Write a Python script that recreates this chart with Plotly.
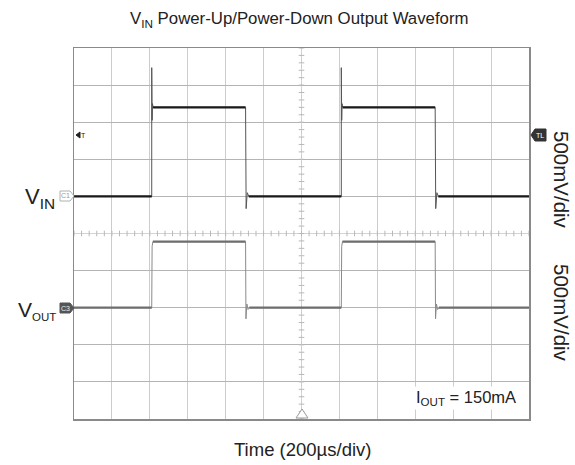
import numpy as np
import plotly.graph_objects as go

# ---- data (time in µs relative to screen centre, amplitude in screen divisions) ----
vin_t = [-1200, -790, -790, -788, -786, -783, -295, -292, -286, -278,
         210, 210, 212, 214, 217, 705, 708, 714, 722, 1200]
vin_div = [1.0, 1.0, 4.47, 3.05, 3.5, 3.4, 3.4, 0.67, 1.1, 1.0,
           1.0, 4.47, 3.05, 3.5, 3.4, 3.4, 0.67, 1.1, 1.0, 1.0]

vout_t = [-1200, -790, -788, -784, -295, -293, -288, -282, -275,
          210, 212, 216, 705, 707, 712, 718, 725, 1200]
vout_div = [-2.0, -2.0, -0.35, -0.22, -0.22, -2.3, -1.9, -2.05, -2.0,
            -2.0, -0.35, -0.22, -0.22, -2.3, -1.9, -2.05, -2.0, -2.0]

title_text = "V<sub>IN</sub> Power-Up/Power-Down Output Waveform"
x_title = "Time (200µs/div)"
scale_labels = ["500mV/div", "500mV/div"]
iout_label = "I<sub>OUT</sub> = 150mA"
vin_label = "V<sub>IN</sub>"
vout_label = "V<sub><span style='font-size:11.5px'>OUT</span></sub>"

W, H = 575, 465
L, R, T, B = 74, 529, 48, 419
FONT = "Liberation Sans, Arial, sans-serif"


def px(x):
    return (x - L) / (R - L)


def py(y):
    return (B - y) / (B - T)


def flat_parts(t, v, min_len=20):
    xs, ys = [], []
    for i in range(len(t) - 1):
        if t[i + 1] - t[i] >= min_len:
            xs += [t[i], t[i + 1], None]
            ys += [v[i], v[i + 1], None]
    return xs, ys


fig = go.Figure()

# centre graticule lines with minor ticks
mx = np.arange(-1200, 1201, 40)
my = np.arange(-5, 5.01, 0.2)
fig.add_trace(go.Scatter(x=[-1200, 1200], y=[0, 0], mode="lines",
                         line=dict(color="#d4d4d4", width=1), hoverinfo="skip", showlegend=False))
fig.add_trace(go.Scatter(x=[0, 0], y=[-5, 5], mode="lines",
                         line=dict(color="#d4d4d4", width=1, dash="dot"), hoverinfo="skip", showlegend=False))
fig.add_trace(go.Scatter(x=mx, y=np.zeros_like(mx), mode="markers",
                         marker=dict(symbol="line-ns-open", size=4, color="#b8b8b8", line=dict(color="#b8b8b8", width=1)),
                         hoverinfo="skip", showlegend=False))
fig.add_trace(go.Scatter(x=np.zeros_like(my), y=my, mode="markers",
                         marker=dict(symbol="line-ew-open", size=4, color="#b8b8b8", line=dict(color="#b8b8b8", width=1)),
                         hoverinfo="skip", showlegend=False))

# VOUT: thin full trace + heavier flat portions
fig.add_trace(go.Scatter(x=vout_t, y=vout_div, mode="lines",
                         line=dict(color="#8a8a8a", width=1), name="VOUT", showlegend=False))
fx, fy = flat_parts(vout_t, vout_div)
fig.add_trace(go.Scatter(x=fx, y=fy, mode="lines",
                         line=dict(color="#6e6e6e", width=2.2), hoverinfo="skip", showlegend=False))
# VIN
fig.add_trace(go.Scatter(x=vin_t, y=vin_div, mode="lines",
                         line=dict(color="#555555", width=1), name="VIN", showlegend=False))
fx, fy = flat_parts(vin_t, vin_div)
fig.add_trace(go.Scatter(x=fx, y=fy, mode="lines",
                         line=dict(color="#1a1a1a", width=2.2), hoverinfo="skip", showlegend=False))

fig.update_xaxes(range=[-1200, 1200], dtick=200, tick0=-1200, showgrid=True, gridcolor="#cccccc",
                 gridwidth=1, showticklabels=False, ticks="", zeroline=False,
                 showline=True, mirror=True, linecolor="#8a8a8a", linewidth=1.5, fixedrange=True)
fig.update_yaxes(range=[-5, 5], dtick=1, tick0=-5, showgrid=True, gridcolor="#b4b4b4",
                 gridwidth=1, showticklabels=False, ticks="", zeroline=False,
                 showline=True, mirror=True, linecolor="#8a8a8a", linewidth=1.5, fixedrange=True)

shapes = []
# C1 tag (hollow)
shapes.append(dict(type="path", xref="paper", yref="paper",
                   path=f"M {px(60)} {py(191)} L {px(70)} {py(191)} L {px(74)} {py(196)} L {px(70)} {py(201)} L {px(60)} {py(201)} Z",
                   line=dict(color="#b0b0b0", width=1), fillcolor="white"))
# C3 tag (filled)
shapes.append(dict(type="path", xref="paper", yref="paper",
                   path=f"M {px(60)} {py(303)} L {px(70)} {py(303)} L {px(74)} {py(308)} L {px(70)} {py(313)} L {px(60)} {py(313)} Z",
                   line=dict(color="#555555", width=1), fillcolor="#555555"))
# TL tag on right
shapes.append(dict(type="path", xref="paper", yref="paper",
                   path=f"M {px(531)} {py(135)} L {px(535)} {py(129)} L {px(546)} {py(129)} L {px(546)} {py(141)} L {px(535)} {py(141)} Z",
                   line=dict(color="#333333", width=1), fillcolor="#333333"))
# trigger arrow inside plot
shapes.append(dict(type="path", xref="paper", yref="paper",
                   path=f"M {px(76)} {py(135)} L {px(80)} {py(132)} L {px(80)} {py(138)} Z",
                   line=dict(color="#222222", width=1), fillcolor="#222222"))
# bottom trigger-position triangle
shapes.append(dict(type="path", xref="paper", yref="paper",
                   path=f"M {px(302)} {py(409)} L {px(308)} {py(418)} L {px(296)} {py(418)} Z",
                   line=dict(color="#999999", width=1), fillcolor="white"))
fig.update_layout(shapes=shapes)

ann = []
ann.append(dict(text=title_text, x=px(299), y=py(19), xref="paper", yref="paper",
                showarrow=False, font=dict(family=FONT, size=16.8, color="#222"), xanchor="center", yanchor="middle"))
ann.append(dict(text=x_title, x=px(302), y=py(449), xref="paper", yref="paper",
                showarrow=False, font=dict(family=FONT, size=18.5, color="#222"), xanchor="center", yanchor="middle"))
ann.append(dict(text=vin_label, x=px(57), y=py(198), xref="paper", yref="paper",
                showarrow=False, font=dict(family=FONT, size=22, color="#222"), xanchor="right", yanchor="middle"))
ann.append(dict(text=vout_label, x=px(58), y=py(310), xref="paper", yref="paper",
                showarrow=False, font=dict(family=FONT, size=21, color="#222"), xanchor="right", yanchor="middle"))
ann.append(dict(text="C1", x=px(65.5), y=py(196), xref="paper", yref="paper",
                showarrow=False, font=dict(family=FONT, size=7, color="#999"), xanchor="center", yanchor="middle"))
ann.append(dict(text="C3", x=px(65.5), y=py(308), xref="paper", yref="paper",
                showarrow=False, font=dict(family=FONT, size=7, color="#eee"), xanchor="center", yanchor="middle"))
ann.append(dict(text="TL", x=px(540), y=py(135), xref="paper", yref="paper",
                showarrow=False, font=dict(family=FONT, size=7, color="#fff"), xanchor="center", yanchor="middle"))
ann.append(dict(text="T", x=px(83), y=py(135), xref="paper", yref="paper",
                showarrow=False, font=dict(family=FONT, size=7, color="#222"), xanchor="center", yanchor="middle"))
ann.append(dict(text=scale_labels[0], x=px(562), y=py(180), xref="paper", yref="paper", textangle=90,
                showarrow=False, font=dict(family=FONT, size=20.5, color="#222"), xanchor="center", yanchor="middle"))
ann.append(dict(text=scale_labels[1], x=px(562), y=py(313), xref="paper", yref="paper", textangle=90,
                showarrow=False, font=dict(family=FONT, size=20.5, color="#222"), xanchor="center", yanchor="middle"))
ann.append(dict(text=iout_label, x=px(466), y=py(398), xref="paper", yref="paper",
                showarrow=False, font=dict(family=FONT, size=16.5, color="#222"), xanchor="center", yanchor="middle",
                bgcolor="white", borderpad=1))
fig.update_layout(annotations=ann)

fig.update_layout(width=W, height=H, margin=dict(l=L, r=W - R, t=T, b=H - B),
                  paper_bgcolor="white", plot_bgcolor="white", showlegend=False)

fig.write_html("out.html", config={"displayModeBar": False, "staticPlot": True},
               post_script="document.body.style.margin='0';document.body.style.overflow='hidden';")
